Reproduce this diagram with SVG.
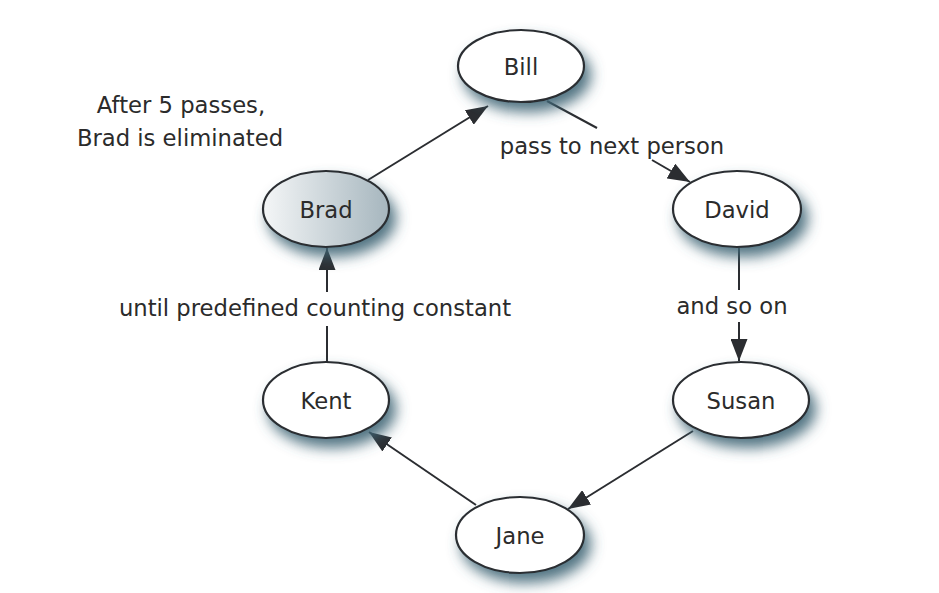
<svg xmlns="http://www.w3.org/2000/svg" width="939" height="593" viewBox="0 0 939 593">
<style>
.node{fill:#ffffff;stroke:#2b2d31;stroke-width:2.2}
.edge{fill:none;stroke:#2b2d31;stroke-width:2}
text{font-family:"DejaVu Sans","Open Sans",sans-serif;font-size:22.7px;fill:#2b2b2b;text-anchor:middle}
</style>
<defs>
<filter id="sh" x="-30%" y="-30%" width="170%" height="190%">
<feGaussianBlur in="SourceAlpha" stdDeviation="7"/>
<feOffset dx="6" dy="9" result="b"/>
<feFlood flood-color="#3f6575" flood-opacity="0.9"/>
<feComposite in2="b" operator="in" result="s"/>
<feMerge><feMergeNode in="s"/><feMergeNode in="SourceGraphic"/></feMerge>
</filter>
<linearGradient id="g" x1="0" y1="0" x2="1" y2="0">
<stop offset="0" stop-color="#f4f6f7"/>
<stop offset="1" stop-color="#a6b6be"/>
</linearGradient>
<marker id="ah" viewBox="0 0 22 17" refX="22" refY="8.5" markerWidth="22" markerHeight="17" markerUnits="userSpaceOnUse" orient="auto">
<path d="M0,0 L22,8.5 L0,17 z" fill="#2b2d31"/>
</marker>
</defs>
<g id="connectors">
<line class="edge" x1="368" y1="180" x2="488" y2="106" marker-end="url(#ah)"/>
<line class="edge" x1="547" y1="101" x2="597" y2="128"/>
<line class="edge" x1="652" y1="160" x2="690" y2="182" marker-end="url(#ah)"/>
<line class="edge" x1="739" y1="248" x2="739" y2="290"/>
<line class="edge" x1="739" y1="322" x2="739" y2="361" marker-end="url(#ah)"/>
<line class="edge" x1="693" y1="431" x2="568" y2="509" marker-end="url(#ah)"/>
<line class="edge" x1="476" y1="505" x2="369" y2="432" marker-end="url(#ah)"/>
<line class="edge" x1="327" y1="362" x2="327" y2="326"/>
<line class="edge" x1="327" y1="292" x2="327" y2="248" marker-end="url(#ah)"/>
</g>
<g id="node-bill"><ellipse class="node" cx="521" cy="66" rx="63" ry="36" filter="url(#sh)"/><text x="521" y="75">Bill</text></g>
<g id="node-brad"><ellipse class="node" cx="326" cy="209" rx="63" ry="38" style="fill:url(#g)" filter="url(#sh)"/><text x="326" y="218">Brad</text></g>
<g id="node-david"><ellipse class="node" cx="737" cy="209" rx="64" ry="38" filter="url(#sh)"/><text x="737" y="218">David</text></g>
<g id="node-susan"><ellipse class="node" cx="741" cy="400" rx="68" ry="38" filter="url(#sh)"/><text x="741" y="409">Susan</text></g>
<g id="node-jane"><ellipse class="node" cx="520" cy="535" rx="64" ry="38" filter="url(#sh)"/><text x="520" y="544">Jane</text></g>
<g id="node-kent"><ellipse class="node" cx="326" cy="400" rx="63" ry="38" filter="url(#sh)"/><text x="326" y="409">Kent</text></g>
<g id="labels">
<text x="181" y="113">After 5 passes,</text>
<text x="180" y="146">Brad is eliminated</text>
<text x="612" y="154">pass to next person</text>
<text x="732" y="314">and so on</text>
<text x="315" y="316">until predefined counting constant</text>
</g>
</svg>
